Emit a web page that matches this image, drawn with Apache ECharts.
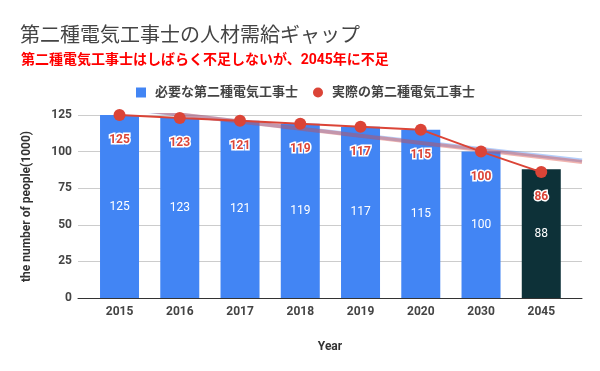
<!DOCTYPE html>
<html>
<head>
<meta charset="utf-8">
<script src="https://cdn.jsdelivr.net/npm/echarts@6/dist/echarts.min.js"></script>
<style>html,body{margin:0;padding:0;background:#fff}#c{width:600px;height:371px}</style>
</head>
<body>
<div id="c"></div>
<script>
const categories = ['2015', '2016', '2017', '2018', '2019', '2020', '2030', '2045'];
const needed = [125, 123, 121, 119, 117, 115, 100, 88];
const actual = [125, 123, 121, 119, 117, 115, 100, 86];
const yTicks = [0, 25, 50, 75, 100, 125];
const neededName = '必要な第二種電気工事士';
const actualName = '実際の第二種電気工事士';

const BLUE = '#4285f4', RED = '#db4437', DARK = '#0d3138';
const FONT = "Roboto, 'Noto Sans CJK JP', sans-serif";

// linear least-squares trendline of a series (as Google Charts' trendline option)
function fit(vals) {
  const n = vals.length;
  let sx = 0, sy = 0, sxx = 0, sxy = 0;
  vals.forEach((v, i) => { sx += i; sy += v; sxx += i * i; sxy += i * v; });
  const b = (n * sxy - sx * sy) / (n * sxx - sx * sx);
  const a = (sy - b * sx) / n;
  return x => a + b * x;
}
// background grid spans beyond category bands
const bgMin = -0.69, bgMax = 7.68;
function trendData(vals) {
  const f = fit(vals);
  return [[bgMin, f(bgMin)], [bgMax, f(bgMax)]];
}

const chart = echarts.init(document.getElementById('c'));
chart.setOption({
  animation: false,
  textStyle: { fontFamily: FONT },
  title: [
    { text: '第二種電気工事士の人材需給ギャップ', left: 15, top: 19,
      textStyle: { fontSize: 20, fontWeight: 'normal', color: '#444', fontFamily: "'Noto Sans CJK JP', serif" } },
    { text: '第二種電気工事士はしばらく不足しないが、2045年に不足', left: 16, top: 49,
      textStyle: { fontSize: 14, fontWeight: 'bold', color: '#ff0000', fontFamily: FONT } }
  ],
  legend: {
    left: 131, top: 81, itemWidth: 10, itemHeight: 10, itemGap: 15,
    textStyle: { fontSize: 13, fontWeight: 'bold', color: '#444', fontFamily: FONT, padding: [0, 0, 0, 4] },
    data: [{ name: neededName, icon: 'rect' }, { name: actualName, icon: 'circle' }]
  },
  grid: [
    { left: 78, right: 18, top: 115, bottom: 73 },
    { left: 89.4, right: 28.6, top: 115, bottom: 73 }
  ],
  xAxis: [
    { type: 'value', gridIndex: 0, min: bgMin, max: bgMax,
      axisLine: { show: true, lineStyle: { color: '#333', width: 1 } },
      axisTick: { show: false }, axisLabel: { show: false }, splitLine: { show: false },
      name: 'Year', nameLocation: 'middle', nameGap: 43,
      nameTextStyle: { fontSize: 12, fontWeight: 'bold', color: '#333', fontFamily: FONT } },
    { type: 'category', gridIndex: 1, data: categories,
      axisLine: { show: false }, axisTick: { show: false },
      axisLabel: { fontSize: 12, fontWeight: 'bold', color: '#444', margin: 8, fontFamily: FONT } }
  ],
  yAxis: [
    { type: 'value', gridIndex: 0, min: yTicks[0], max: yTicks[yTicks.length - 1], interval: 25,
      axisLine: { show: false }, axisTick: { show: false },
      axisLabel: { fontSize: 12, fontWeight: 'bold', color: '#444', margin: 6, fontFamily: FONT },
      splitLine: { lineStyle: { color: '#cccccc', width: 1 } },
      name: 'the number of people(1000)', nameLocation: 'middle', nameGap: 45, nameRotate: 90,
      nameTextStyle: { fontSize: 12, fontWeight: 'bold', color: '#333', fontFamily: FONT } },
    { type: 'value', gridIndex: 1, min: yTicks[0], max: yTicks[yTicks.length - 1],
      show: false, splitLine: { show: false } }
  ],
  series: [
    { name: neededName, type: 'bar', xAxisIndex: 1, yAxisIndex: 1, barWidth: 39, z: 2,
      itemStyle: { color: BLUE },
      data: needed.map((v, i) => i === needed.length - 1 ? { value: v, itemStyle: { color: DARK } } : v),
      label: { show: true, position: 'inside', color: '#fff', fontSize: 12, fontFamily: FONT } },
    { name: 'trendNeeded', type: 'line', xAxisIndex: 0, yAxisIndex: 0, z: 3, clip: true,
      data: trendData(needed), symbol: 'none', silent: true,
      lineStyle: { color: BLUE, width: 4, opacity: 0.4 } },
    { name: 'trendActual', type: 'line', xAxisIndex: 0, yAxisIndex: 0, z: 3, clip: true,
      data: trendData(actual), symbol: 'none', silent: true,
      lineStyle: { color: RED, width: 4, opacity: 0.4 } },
    { name: actualName, type: 'line', xAxisIndex: 1, yAxisIndex: 1, z: 5, clip: false,
      data: actual, symbol: 'circle', symbolSize: 12,
      itemStyle: { color: RED }, lineStyle: { color: RED, width: 2 },
      label: { show: true, position: 'bottom', distance: 13, color: RED, fontSize: 12, fontWeight: 'bold',
        textBorderColor: '#fff', textBorderWidth: 3, fontFamily: FONT } }
  ]
});
</script>
</body>
</html>
